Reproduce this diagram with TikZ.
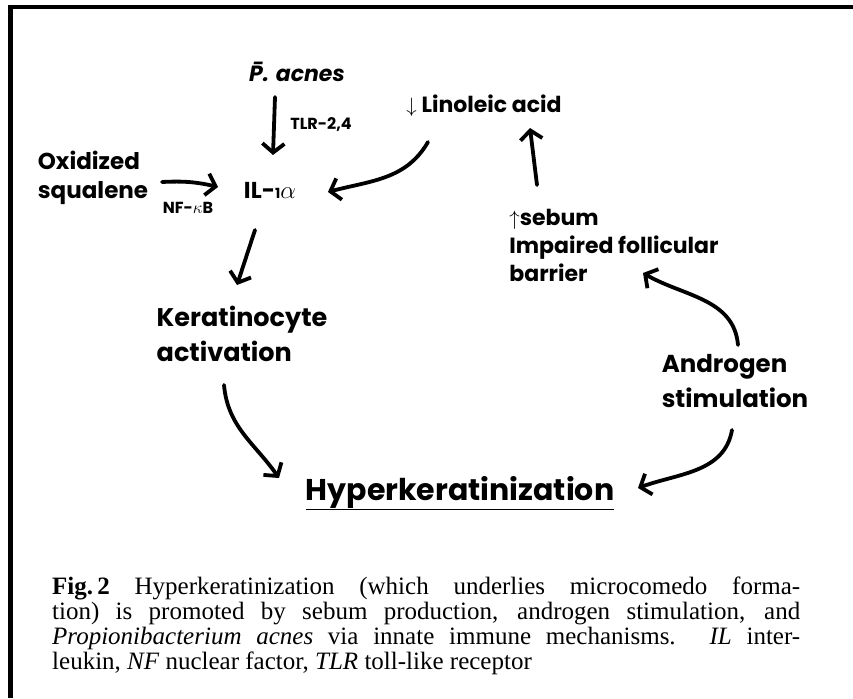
\documentclass[tikz,border=0pt]{standalone}
\usepackage{fontspec}
\setmainfont{Liberation Serif}
\newfontfamily\dfont{Poppins}
\usetikzlibrary{arrows.meta}
\newcommand{\dsize}[2]{\dfont\bfseries\fontsize{#1}{#2}\selectfont}
\begin{document}
\begin{tikzpicture}[x=1pt, y=1pt, line join=round, line cap=round]
  \tikzstyle{term}=[align=left, inner sep=0pt]
  \tikzstyle{edge_label}=[inner sep=0pt, font=\dsize{16}{18}]
  \tikzstyle{arr}=[line width=3.8pt, -{Straight Barb[length=9pt,width=22pt]}]
  \useasboundingbox (0,0) rectangle (853,-698);
  % frame
  \draw[line width=4.5pt, line cap=butt] (8,-7) -- (853,-7);
  \draw[line width=5pt, line cap=butt] (10.5,-5) -- (10.5,-698);
  % terms
  \node[term, font=\dsize{23}{29}] (oxsq) at (93,-178) {Oxidized\\squalene};
  \node[term, font=\dfont\bfseries\itshape\fontsize{22}{26}\selectfont] (pacnes) at (297,-72) {\accent"AF P. acnes};
  \node[term, font=\dsize{22}{26}] (lino) at (484,-106) {$\downarrow$ Linoleic acid};
  \node[term, font=\dsize{23}{28}] (il) at (270,-190) {IL-{\fontsize{14}{14}\selectfont 1}$\alpha$};
  \node[term, font=\dsize{25.5}{35}] (kerat) at (242,-334) {Keratinocyte\\activation};
  \node[term, font=\dsize{22}{28}] (sebum) at (614,-245) {$\uparrow$sebum\\Impaired follicular\\barrier};
  \node[term, font=\dsize{24.5}{35}] (andro) at (735,-381) {Androgen\\stimulation};
  \node[term, font=\dsize{30}{34}] (hyper) at (460,-493) {\underline{Hyperkeratinization}};
  % edge labels
  \node[edge_label] (tlr) at (321,-125) {TLR-2,4};
  \node[edge_label] (nfkb) at (188,-208) {NF-$\kappa$B};
  % arrows
  \draw[arr] ([shift={(-22,-25)}]pacnes.center) -- ([shift={(3,35)}]il.center);
  \draw[arr] ([shift={(69,-4)}]oxsq.center) to[bend left=8] ([shift={(-52,3)}]il.center);
  \draw[arr] ([shift={(-56,-36)}]lino.center) to[out=240, in=15] ([shift={(58,-2)}]il.center);
  \draw[arr] ([shift={(-15,-40)}]il.center) -- ([shift={(-5,49)}]kerat.center);
  \draw[arr] ([shift={(-18,-51)}]kerat.center) to[out=-85, in=125] ([shift={(-181,15)}]hyper.center);
  \draw[arr] ([shift={(-3,-49)}]andro.center) to[out=-100, in=20] ([shift={(178,5)}]hyper.center);
  \draw[arr] ([shift={(3,36)}]andro.center) to[out=95, in=-30] ([shift={(29,-28)}]sebum.center);
  \draw[arr] ([shift={(-77,60)}]sebum.center) -- ([shift={(46,-22)}]lino.center);
  % caption
  \node[anchor=north west, text width=748pt, align=justify, inner sep=0pt,
        font=\fontsize{25}{25}\selectfont] (caption) at (52,-577)
    {\textbf{Fig.\,2} Hyperkeratinization (which underlies microcomedo forma-\linebreak
     tion) is promoted by sebum production, androgen stimulation, and\linebreak
     \textit{Propionibacterium acnes} via innate immune mechanisms. \textit{IL} inter-\linebreak
     leukin, \textit{NF} nuclear factor, \textit{TLR} toll-like receptor};
\end{tikzpicture}
\end{document}
